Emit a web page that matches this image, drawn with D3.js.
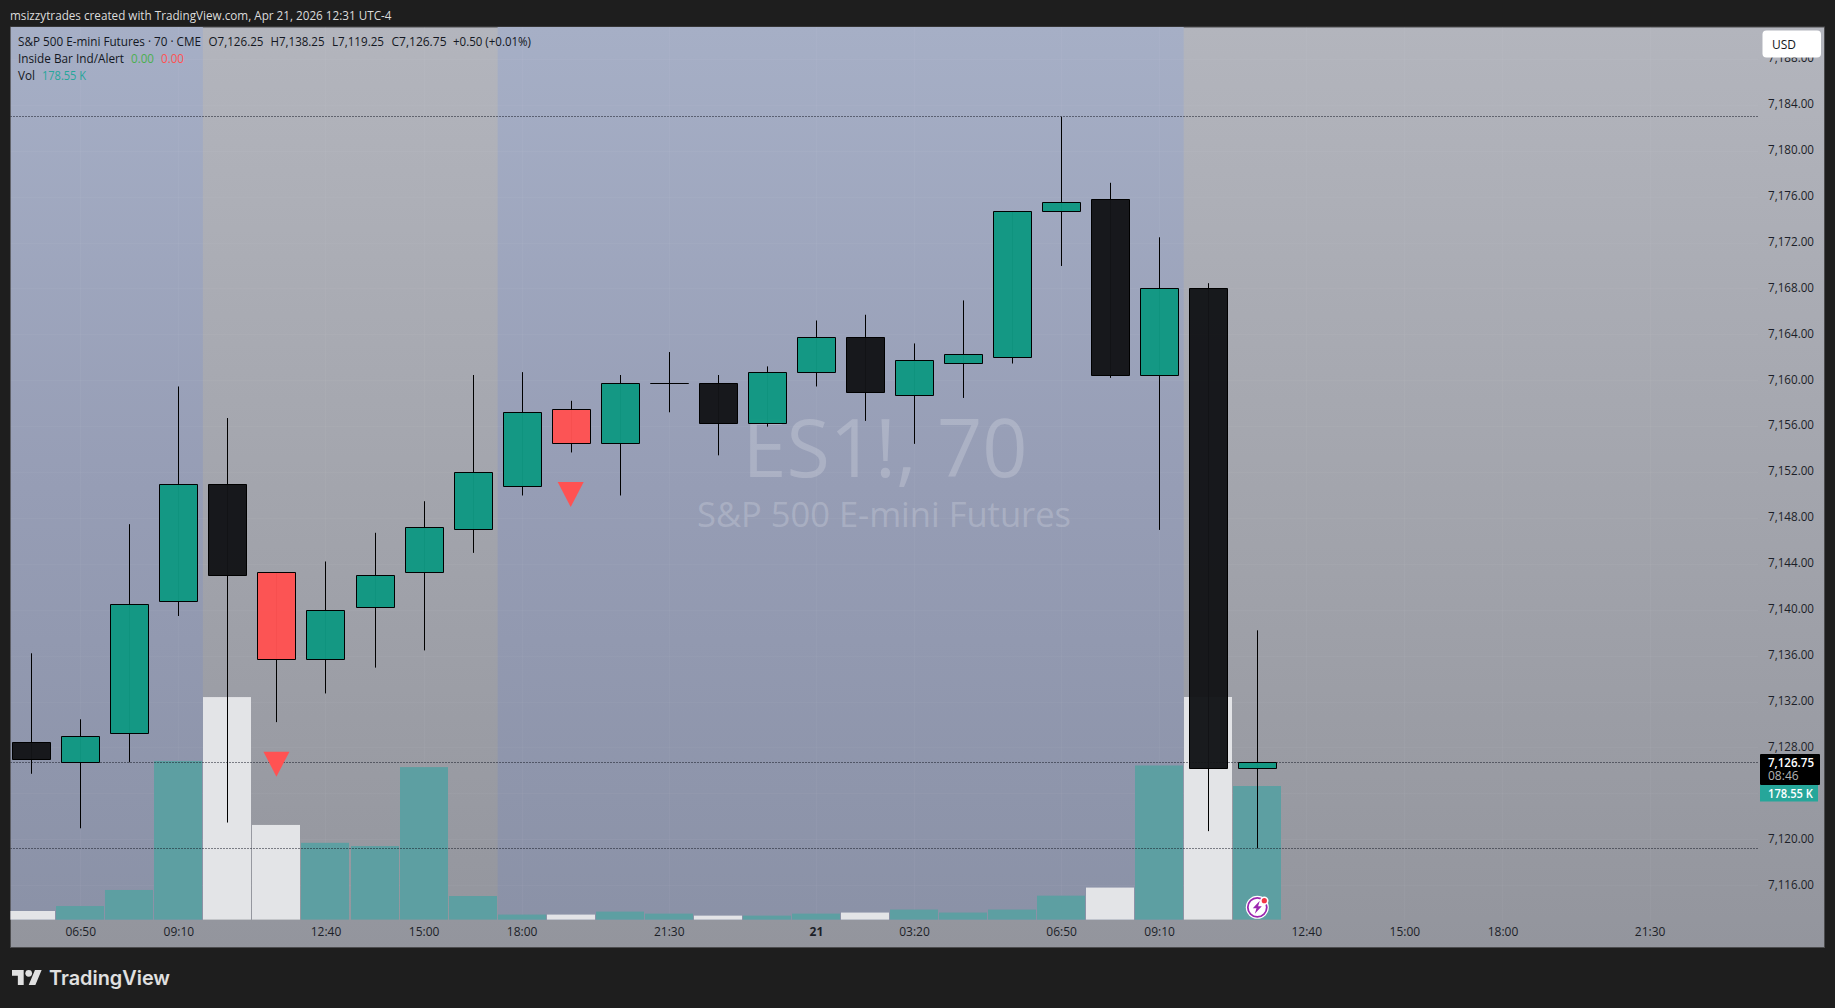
<!DOCTYPE html>
<html><head><meta charset="utf-8">
<script src="https://cdn.jsdelivr.net/npm/d3@7"></script>
<style>
html,body{margin:0;padding:0;background:#1e1e1e;overflow:hidden}
svg{display:block}
text{font-family:"Open Sans","Noto Sans",sans-serif}
</style></head><body><svg id="c" width="1835" height="1008"></svg>
<script>
const opens  =[7128.5,7126.75,7129.25,7140.75,7151,7143.25,7135.75,7140.25,7143.25,7147,7150.75,7157.5,7154.5,7159.75,7159.75,7156.25,7160.75,7163.75,7158.75,7161.5,7162,7174.75,7175.75,7160.5,7168,7126.25];
const highs  =[7136.25,7130.5,7147.5,7159.5,7156.75,7143.25,7144.25,7146.75,7149.5,7160.5,7160.75,7158.25,7160.5,7162.5,7160.5,7161.25,7165.25,7165.75,7163.25,7167,7174.75,7183,7177.25,7172.5,7168.5,7138.25];
const lows   =[7125.75,7121,7126.75,7139.5,7121.5,7130.25,7132.75,7135,7136.5,7145,7150,7153.75,7150,7157.25,7153.5,7156,7159.5,7156.5,7154.5,7158.5,7161.5,7170,7160.25,7147,7120.75,7119.25];
const closes =[7127,7129,7140.5,7151,7143,7135.75,7140,7143,7147.25,7152,7157.25,7154.5,7159.75,7159.75,7156.25,7160.75,7163.75,7159,7161.75,7162.25,7174.75,7175.5,7160.5,7168,7126.25,7126.75];
const candleKinds=["down","up","up","up","down","inside","up","up","up","up","up","inside","up","down","down","up","up","down","up","up","up","up","down","up","down","up"];
const volumes=[11.5,18.1,39.6,212,297.4,126.5,102.6,98.3,203.8,31.5,6.7,6.7,10.7,8,5.3,5.3,8,9.4,13.4,9.4,13.4,32,42.8,206,297.5,178.55];
const volumeKinds=["down","up","up","up","down","down","up","up","up","up","up","down","up","up","down","up","up","down","up","up","up","up","down","up","down","up"];
const signalBars=[5,11];
const signalPrices=[7125.5,7149];
const offSessions=[[-1,3.5],[9.5,23.5]];
const priceTicks=[7116,7120,7124,7128,7132,7136,7140,7144,7148,7152,7156,7160,7164,7168,7172,7176,7180,7184,7188];
const timeBars=[1,3,6,8,10,13,16,18,21,23,26,28,30,33];
const timeLabels=["06:50","09:10","12:40","15:00","18:00","21:30","21","03:20","06:50","09:10","12:40","15:00","18:00","21:30"];
const levelPrices=[7183,7126.75,7119.25];

const svg=d3.select("#c");
const PL=10.5,PR=1824.5,PT=27,PB=947.5,PLOT_R=1758,PLOT_B=920;
const x=d3.scaleLinear().domain([0,25]).range([31.75,1257.75]);
const y=d3.scaleLinear().domain([7126.75,7183]).range([762.3,116.8]);
const v=d3.scaleLinear().domain([0,297.5]).range([919.6,697]);
const fmt=d3.format(",.2f");
const defs=svg.append("defs");
function grad(id,stops){const g=defs.append("linearGradient").attr("id",id).attr("x1",0).attr("x2",0).attr("y1",0).attr("y2",1);
 stops.forEach(s=>g.append("stop").attr("offset",s[0]).attr("stop-color",s[1]));}
grad("gray",[[0,"#b3b5bd"],[.5,"#a3a5ad"],[1,"#93959d"]]);
grad("blue",[[0,"#a6afc6"],[.5,"#969db5"],[1,"#8a91a6"]]);
defs.append("clipPath").attr("id","plot").append("rect").attr("x",PL).attr("y",PT).attr("width",PLOT_R-PL).attr("height",PLOT_B-PT);

svg.append("rect").attr("width",1835).attr("height",1008).attr("fill","#1e1e1e");
svg.append("text").attr("x",10).attr("y",19.5).attr("fill","#dcdcdc").style("font-size","12px")
 .attr("textLength",381.5).attr("lengthAdjust","spacingAndGlyphs").text("msizzytrades created with TradingView.com, Apr 21, 2026 12:31 UTC-4");
svg.append("rect").attr("x",PL).attr("y",PT).attr("width",PR-PL).attr("height",PB-PT).attr("fill","url(#gray)").attr("stroke","#4c4c4e").attr("stroke-width",1);

// session shading
const plot=svg.append("g").attr("clip-path","url(#plot)");
const gradH=PB-PT;
offSessions.forEach(s=>{
 const a=Math.max(PL,x(s[0])),b=x(s[1])-.5;
 plot.append("rect").attr("x",a).attr("y",PT).attr("width",b-a).attr("height",gradH).attr("fill","url(#blue)");
});
// grid
const grid=plot.append("g").attr("stroke","#ffffff").attr("stroke-opacity",.035);
priceTicks.forEach(p=>grid.append("line").attr("x1",PL).attr("x2",PLOT_R).attr("y1",Math.floor(y(p))+.5).attr("y2",Math.floor(y(p))+.5));
timeBars.forEach(b=>grid.append("line").attr("x1",Math.floor(x(b))+.5).attr("x2",Math.floor(x(b))+.5).attr("y1",PT).attr("y2",PLOT_B));

// watermark
plot.append("text").attr("x",885).attr("y",476.5).attr("text-anchor","middle").attr("fill","#ffffff").attr("fill-opacity",.2)
 .style("font-size","80px").style("font-weight",500).attr("textLength",285).attr("lengthAdjust","spacingAndGlyphs").text("ES1!, 70");
plot.append("text").attr("x",884).attr("y",527).attr("text-anchor","middle").attr("fill","#ffffff").attr("fill-opacity",.2)
 .style("font-size","34px").style("font-weight",500).attr("textLength",374).attr("lengthAdjust","spacingAndGlyphs").text("S&P 500 E-mini Futures");

// volume
const idx=d3.range(opens.length);
plot.append("g").selectAll("rect").data(idx).join("rect")
 .attr("x",i=>Math.floor(x(i)-24)).attr("width",48)
 .attr("y",i=>v(volumes[i])).attr("height",i=>v(0)-v(volumes[i]))
 .attr("fill",i=>volumeKinds[i]==="up"?"#5d9fa2":"#e3e4e7");

// levels
plot.append("g").selectAll("line").data(levelPrices).join("line")
 .attr("x1",PL).attr("x2",PLOT_R).attr("y1",d=>Math.floor(y(d))+.5).attr("y2",d=>Math.floor(y(d))+.5)
 .attr("stroke","#131722").attr("stroke-width",1).attr("stroke-dasharray","1 2");

// candles
const candleFill={up:"#0f9882",down:"#131417",inside:"#ff5252"};
const cg=plot.append("g");
cg.selectAll("line").data(idx).join("line")
 .attr("x1",i=>Math.floor(x(i))+.5).attr("x2",i=>Math.floor(x(i))+.5)
 .attr("y1",i=>y(highs[i])).attr("y2",i=>y(lows[i])).attr("stroke","#000").attr("stroke-width",1);
cg.selectAll("path").data(idx).join("path")
 .attr("d",i=>{
   const l=Math.floor(x(i))-18.5,r=l+38;
   const t=Math.floor(y(Math.max(opens[i],closes[i])))+.5,b=Math.floor(y(Math.min(opens[i],closes[i])))+.5;
   return `M${l},${t}H${r}V${b}H${l}Z`;})
 .attr("fill",i=>candleFill[candleKinds[i]]).attr("fill-opacity",.97).attr("stroke","#000").attr("stroke-width",1);

// signals
plot.append("g").selectAll("path").data(signalBars).join("path")
 .attr("d",(b,k)=>{const px=x(b)-.5,tip=y(signalPrices[k]);return `M${px-13},${tip-25}L${px+13},${tip-25}L${px},${tip}Z`;})
 .attr("fill","#ff5252");

// price axis
const yAxis=d3.axisRight(y).tickValues(priceTicks).tickFormat(fmt).tickSize(0).tickPadding(0);
const ya=svg.append("g").attr("transform","translate(1768,-1.5)").call(yAxis);
ya.select(".domain").remove();
ya.selectAll("text").attr("fill","#1c1f28").style("font-size","12px").style("font-family",'"Open Sans",sans-serif').attr("textLength",46).attr("lengthAdjust","spacingAndGlyphs");

// time axis
const xAxis=d3.axisBottom(x).tickValues(timeBars).tickFormat((d,i)=>timeLabels[i]).tickSize(0).tickPadding(0);
const xa=svg.append("g").attr("transform","translate(-.5,927.5)").call(xAxis);
xa.select(".domain").remove();
xa.selectAll("text").attr("fill","#1c1f28").style("font-size","12px").style("font-family",'"Open Sans",sans-serif')
 .style("font-weight",(d,i)=>timeLabels[i]==="21"?700:400);

// USD box
svg.append("rect").attr("x",1762.5).attr("y",30.5).attr("width",58.5).attr("height",27).attr("rx",4).attr("fill","#fff");
svg.append("text").attr("x",1772).attr("y",49).attr("fill","#131722").style("font-size","12px").text("USD");

// price tags
svg.append("rect").attr("x",1760).attr("y",754).attr("width",60).attr("height",31).attr("rx",1).attr("fill","#000");
svg.append("text").attr("x",1768).attr("y",766.5).attr("fill","#fff").style("font-size","12px").style("font-weight",600).attr("textLength",46).attr("lengthAdjust","spacingAndGlyphs").text(fmt(closes[25]));
svg.append("text").attr("x",1768).attr("y",780).attr("fill","#b4b4b4").style("font-size","12px").text("08:46");
svg.append("rect").attr("x",1760).attr("y",785).attr("width",58).attr("height",16.5).attr("fill","#26a69a");
svg.append("text").attr("x",1768).attr("y",797.5).attr("fill","#fff").style("font-size","12px").style("font-weight",600).attr("textLength",45).attr("lengthAdjust","spacingAndGlyphs").text(volumes[25]+" K");

// legend
function leg(tx,ty,s,c,len){const t=svg.append("text").attr("x",tx).attr("y",ty).attr("fill",c).style("font-size","12px").text(s);
 if(len)t.attr("textLength",len).attr("lengthAdjust","spacingAndGlyphs");return t;}
const ink="#131722";
leg(18,46,"S&P 500 E-mini Futures · 70 · CME",ink,183);
leg(208.5,46,"O7,126.25",ink,55);
leg(270.5,46,"H7,138.25",ink,54);
leg(332,46,"L7,119.25",ink,52);
leg(391.5,46,"C7,126.75",ink,55);
leg(453,46,"+0.50 (+0.01%)",ink,78);
leg(18,63,"Inside Bar Ind/Alert",ink,106);
leg(131,63,"0.00","#4caf50",23);
leg(161,63,"0.00","#ff5252",23);
leg(18,80,"Vol",ink,17);
leg(42,80,"178.55 K","#26a69a",44);

// flash icon
const ic=svg.append("g").attr("transform","translate(1257.3,907.3)");
ic.append("circle").attr("r",11.5).attr("fill","#fff");
ic.append("circle").attr("r",9.5).attr("fill","#fff").attr("stroke","#9c27b0").attr("stroke-width",1.8);
ic.append("path").attr("d","M2.5,-6.5L-4.5,1L-0.8,1L-2.5,6.5L4.5,-1L0.8,-1Z").attr("fill","#9c27b0");
ic.append("circle").attr("cx",7).attr("cy",-6.6).attr("r",4.2).attr("fill","#fff");
ic.append("circle").attr("cx",7).attr("cy",-6.6).attr("r",2.6).attr("fill","#f23645");

// logo
const lg=svg.append("g").attr("transform","translate(12,966.66) scale(.835)").attr("fill","#e0e0e0");
lg.append("path").attr("d","M14 22H7V11H0V4h14v18zM28 22h-8l7.5-18h8L28 22z");
lg.append("circle").attr("cx",20).attr("cy",8).attr("r",4);
svg.append("text").attr("x",49).attr("y",984.5).attr("fill","#e0e0e0").style("font-family","Inter,sans-serif").style("font-size","20px").style("font-weight",600)
 .attr("textLength",121).attr("lengthAdjust","spacingAndGlyphs").text("TradingView");
</script></body></html>
